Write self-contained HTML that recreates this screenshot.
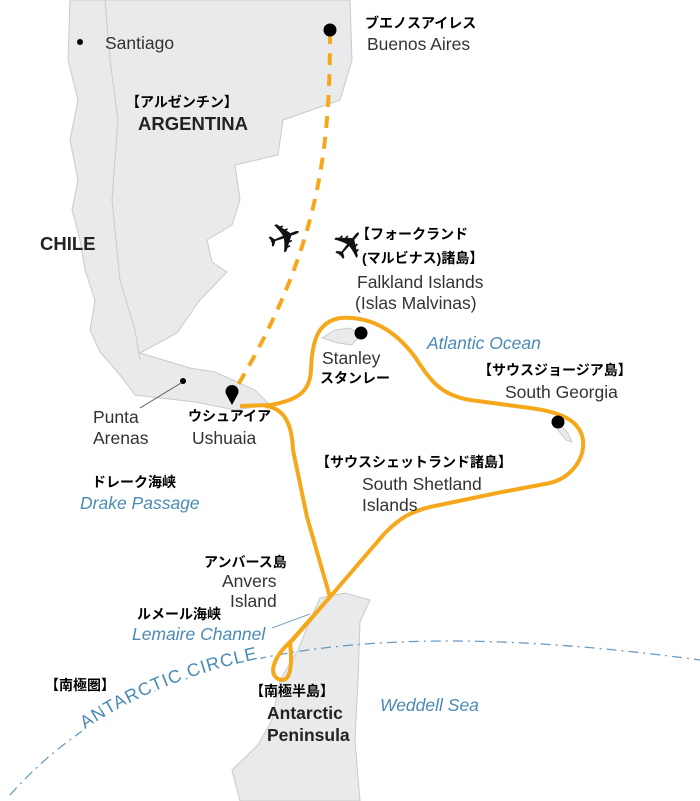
<!DOCTYPE html>
<html><head><meta charset="utf-8"><style>
html,body{margin:0;padding:0;background:#fff}
svg{display:block}
.en{font-family:"Liberation Sans",sans-serif;font-size:17.5px;fill:#333}
.jp{font-family:"Liberation Sans","Noto Sans CJK JP",sans-serif;font-size:14px;font-weight:bold;fill:#000}
.bl{font-family:"Liberation Sans",sans-serif;font-size:17.5px;font-style:italic;fill:#4a8ab5}
.bd{font-family:"Liberation Sans",sans-serif;font-size:18.5px;font-weight:bold;fill:#222}
</style></head><body>
<svg width="700" height="801" viewBox="0 0 700 801" xmlns="http://www.w3.org/2000/svg">
<path d="M70,0 L350,0 L352,60 L340,100 L283,120 L278,155 L235,165 L240,200 L232,225 L207,240 L212,262 L227,272 L200,300 L177,333 L140,353 L190,368 L215,372 L255,390 L270,405 L235,410 L195,402 L160,398 L135,395 L120,375 L100,352 L90,330 L95,300 L85,270 L80,240 L72,210 L78,180 L70,140 L78,100 L68,60 Z" fill="#e9eaec" stroke="#c9cacd" stroke-width="1"/>
<path d="M105,0 L110,60 L118,120 L112,200 L120,280 L135,330 L140,360" fill="none" stroke="#c9cacd" stroke-width="1"/>
<path d="M322,338 L335,330 L350,328 L360,335 L352,345 L338,343 Z" fill="#e9eaec" stroke="#c9cacd"/>
<path d="M560,425 L568,433 L572,442 L566,440 L558,430 Z" fill="#e9eaec" stroke="#c9cacd"/>
<path d="M320,598 L345,593 L370,600 L360,622 L358,680 L355,740 L360,801 L240,801 L232,770 L258,745 L272,720 L280,680 L298,650 L310,620 Z" fill="#e9eaec" stroke="#c9cacd"/>
<path id="ac" d="M10,795 C130,660 330,610 700,660" fill="none" stroke="#6a9cc0" stroke-width="1.3" stroke-dasharray="10,5,2,5"/>
<text font-family="Liberation Sans,sans-serif" font-size="18" fill="#4a8ab5" stroke="#fff" stroke-width="7" paint-order="stroke" letter-spacing="1"><textPath href="#ac" startOffset="100">ANTARCTIC CIRCLE</textPath></text>
<path d="M330,32 C330,150 320,250 232,395" fill="none" stroke="#f5a81c" stroke-width="4" stroke-dasharray="12,9"/>
<path d="M240,406 L270,405 C300,400 310,390 311,370 C312,340 318,322 340,318 C370,316 395,330 415,357 C430,380 440,395 470,400 L530,408 C560,412 580,420 583,440 C585,460 570,478 550,483 L497,493 L430,507 C410,512 400,518 385,533 L330,597 L292,640 C270,660 268,678 282,680 C292,680 292,660 290,643 L330,597" fill="none" stroke="#f5a81c" stroke-width="4" stroke-linejoin="round"/>
<path d="M265,406 C285,408 292,425 293,450 L307,517 L330,597" fill="none" stroke="#f5a81c" stroke-width="4"/>
<circle cx="330" cy="30" r="6.5" fill="#000"/>
<circle cx="361" cy="333" r="6.5" fill="#000"/>
<circle cx="558" cy="422" r="6.5" fill="#000"/>
<circle cx="80" cy="42" r="3" fill="#000"/>
<circle cx="183" cy="381" r="3" fill="#000"/>
<path d="M232,405 L226,394 A6.5,6.5 0 1 1 238,394 Z" fill="#000"/>
<line x1="181" y1="383" x2="140" y2="408" stroke="#555" stroke-width="1"/>
<line x1="272" y1="628" x2="310" y2="614" stroke="#7aa5c5" stroke-width="1"/>
<text x="285" y="252" font-family="DejaVu Sans,sans-serif" font-size="42" fill="#111" text-anchor="middle" transform="rotate(-20 285 238)">✈</text>
<text x="350" y="259" font-family="DejaVu Sans,sans-serif" font-size="42" fill="#111" text-anchor="middle" transform="rotate(-50 350 245)">✈</text>
<text class="en" x="105" y="49">Santiago</text>
<text class="jp" x="365" y="28">ブエノスアイレス</text>
<text class="en" x="367" y="50">Buenos Aires</text>
<text class="jp" x="126" y="107">【アルゼンチン】</text>
<text class="bd" x="138" y="130">ARGENTINA</text>
<text class="bd" x="40" y="250">CHILE</text>
<text class="jp" x="356" y="239">【フォークランド</text>
<text class="jp" x="362" y="263">(マルビナス)諸島】</text>
<text class="en" x="357" y="288">Falkland Islands</text>
<text class="en" x="355" y="309">(Islas Malvinas)</text>
<text class="bl" x="427" y="349">Atlantic Ocean</text>
<text class="en" x="322" y="364">Stanley</text>
<text class="jp" x="320" y="383">スタンレー</text>
<text class="jp" x="478" y="375">【サウスジョージア島】</text>
<text class="en" x="505" y="398">South Georgia</text>
<text class="en" x="93" y="423">Punta</text>
<text class="en" x="93" y="444">Arenas</text>
<text class="jp" x="188" y="421">ウシュアイア</text>
<text class="en" x="192" y="444">Ushuaia</text>
<text class="jp" x="316" y="467">【サウスシェットランド諸島】</text>
<text class="en" x="362" y="490">South Shetland</text>
<text class="en" x="362" y="511">Islands</text>
<text class="jp" x="92" y="487">ドレーク海峡</text>
<text class="bl" x="80" y="509">Drake Passage</text>
<text class="jp" x="204" y="567">アンバース島</text>
<text class="en" x="222" y="587">Anvers</text>
<text class="en" x="230" y="607">Island</text>
<text class="jp" x="137" y="619">ルメール海峡</text>
<text class="bl" x="132" y="640">Lemaire Channel</text>
<text class="jp" x="45" y="690">【南極圏】</text>
<text class="jp" x="250" y="696">【南極半島】</text>
<text class="en" x="267" y="719" style="font-weight:bold;fill:#222">Antarctic</text>
<text class="en" x="267" y="741" style="font-weight:bold;fill:#222">Peninsula</text>
<text class="bl" x="380" y="711">Weddell Sea</text>
</svg>
</body></html>
